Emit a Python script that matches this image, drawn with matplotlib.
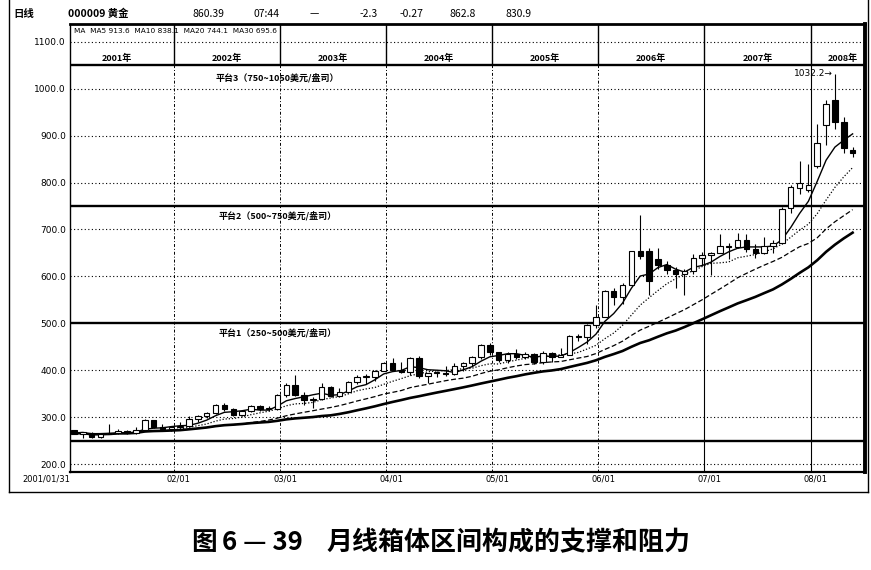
import matplotlib
matplotlib.use('Agg')
import matplotlib.pyplot as plt
import pandas as pd
from matplotlib.lines import Line2D

plt.rcParams['font.family'] = ['Noto Sans CJK SC', 'DejaVu Sans']

# ---------------- data (monthly candles, Jan 2001 - May 2008) ----------------
opens = [272, 265, 267, 258, 264, 267, 271, 266, 273, 293, 279, 275,
         279, 282, 297, 302, 308, 326, 318, 304, 312, 324, 317, 318,
         347, 368, 348, 336, 339, 364, 346, 354, 375, 385, 386, 398,
         416, 400, 397, 427, 387, 394, 395, 391, 408, 416, 428, 453,
         438, 422, 435, 428, 435, 417, 437, 429, 433, 473, 470, 496,
         513, 569, 556, 582, 654, 655, 638, 625, 614, 605, 612, 640,
         645, 650, 665, 662, 678, 659, 650, 665, 672, 745, 788, 785,
         835, 922, 975, 930, 870]
highs = [273, 268, 268, 265, 285, 275, 272, 279, 297, 294, 285, 282,
         290, 302, 304, 310, 328, 330, 320, 315, 325, 325, 323, 350,
         372, 389, 353, 342, 372, 367, 361, 376, 390, 392, 400, 417,
         427, 417, 428, 430, 395, 398, 408, 416, 418, 430, 456, 457,
         439, 439, 446, 439, 436, 442, 438, 447, 474, 478, 498, 540,
         571, 575, 585, 654, 730, 660, 660, 632, 620, 615, 648, 652,
         653, 690, 671, 692, 691, 670, 685, 677, 748, 795, 845, 840,
         925, 975, 1032.2, 940, 875]
lows = [263, 255, 255, 255, 263, 265, 264, 265, 271, 276, 272, 271,
        277, 281, 289, 299, 307, 313, 302, 302, 311, 313, 313, 316,
        343, 344, 325, 320, 337, 342, 342, 352, 371, 370, 378, 398,
        399, 395, 390, 384, 372, 385, 387, 389, 398, 410, 424, 432,
        418, 416, 424, 424, 414, 414, 418, 428, 433, 463, 456, 489,
        513, 538, 541, 582, 637, 560, 615, 605, 575, 560, 606, 625,
        603, 649, 638, 660, 651, 640, 648, 650, 668, 735, 775, 780,
        830, 880, 915, 862, 855]
closes = [265, 267, 258, 264, 267, 271, 266, 273, 293, 279, 275, 279,
          282, 297, 302, 308, 326, 318, 304, 312, 324, 317, 318, 347,
          368, 348, 336, 339, 364, 346, 354, 375, 385, 386, 398, 416,
          400, 397, 427, 387, 394, 395, 391, 408, 416, 428, 453, 438,
          422, 435, 428, 435, 417, 437, 429, 433, 473, 470, 496, 513,
          569, 556, 582, 654, 643, 590, 625, 614, 605, 612, 640, 645,
          650, 665, 662, 678, 659, 650, 665, 672, 743, 790, 800, 795,
          885, 968, 930, 874, 862]

ma_periods = [5, 10, 20, 30]
y_ticks = [1100, 1000, 900, 800, 700, 600, 500, 400, 300, 200]
platform_lines = [1050, 750, 500, 250]
platform_labels = ['平台3（750~1050美元/盎司）', '平台2（500~750美元/盎司）', '平台1（250~500美元/盎司）']
platform_label_y = [1023, 729, 480]
year_labels = ['2001年', '2002年', '2003年', '2004年', '2005年', '2006年', '2007年', '2008年']
date_labels = ['2001/01/31', '02/01', '03/01', '04/01', '05/01', '06/01', '07/01', '08/01']
header_items = ['日线', '000009 黄金', '860.39', '07:44', '—', '-2.3', '-0.27', '862.8', '830.9']
ma_text = 'MA  MA5 913.6  MA10 838.1  MA20 744.1  MA30 695.6'
peak_label = '1032.2→'
caption_fig = '图'
caption_num = '6 — 39'
caption_right = '月线箱体区间构成的支撑和阻力'

# ---------------- figure ----------------
W, H = 871, 570
fig = plt.figure(figsize=(W / 100, H / 100), dpi=100)

def fx(px):
    return px / W

def fy(py):
    return 1 - py / H

ax = fig.add_axes([fx(70), fy(472), fx(865) - fx(70), fy(24) - fy(472)])
n = len(closes)
xs = list(range(n))
ax.set_xlim(-0.45, 89.4)
ax.set_ylim(183, 1138)

# grid lines
for v in y_ticks:
    if v in platform_lines:
        continue
    ax.axhline(v, color='black', lw=0.8, ls=(0, (1, 2.2)), zorder=1)
for v in platform_lines:
    ax.axhline(v, color='black', lw=1.7, zorder=1)

year_bounds = [11.25 + 12 * k for k in range(7)]
for k, xb in enumerate(year_bounds):
    ax.vlines(xb, 1050, 1138, color='black', lw=1.0, zorder=1)
    if k >= 5:
        ax.vlines(xb, 183, 1050, color='black', lw=0.8, zorder=1)
    else:
        ax.vlines(xb, 183, 1050, color='black', lw=0.7, ls=(0, (3, 2, 1, 2)), zorder=1)

# moving averages
cs = pd.Series(closes, dtype=float)
ma_styles = {5: dict(lw=1.0, ls='-'), 10: dict(lw=0.9, ls=(0, (1, 1.5))),
             20: dict(lw=0.9, ls=(0, (4, 2))), 30: dict(lw=1.9, ls='-')}
for p in ma_periods:
    ma = cs.rolling(p, min_periods=1).mean()
    ax.plot(xs, ma, color='black', zorder=2, **ma_styles[p])

# candles
ax.vlines(xs, lows, highs, color='black', lw=0.8, zorder=3)
bottoms = [min(o, c) for o, c in zip(opens, closes)]
heights = [max(abs(c - o), 2.5) for o, c in zip(opens, closes)]
faces = ['white' if c >= o else 'black' for o, c in zip(opens, closes)]
ax.bar(xs, heights, bottom=bottoms, width=0.62, color=faces, edgecolor='black',
       linewidth=0.8, zorder=4)

# axis styling
ax.set_yticks(y_ticks)
ax.set_yticklabels([f'{v:.1f}' for v in y_ticks], fontsize=6.5, family='DejaVu Sans')
xt = [-0.45] + [11.85 + 12 * k for k in range(7)]
ax.set_xticks(xt)
ax.set_xticklabels(date_labels, fontsize=6, family='DejaVu Sans')
ax.get_xticklabels()[0].set_ha('right')
ax.tick_params(axis='both', length=0)
ax.tick_params(axis='y', pad=3)
ax.tick_params(axis='x', pad=2)
ax.spines['left'].set_linewidth(1.0)
ax.spines['bottom'].set_linewidth(1.6)
ax.spines['top'].set_linewidth(2.0)
ax.spines['right'].set_linewidth(2.8)

# year band labels
year_centers = [4.8] + [5.25 + 12 * k for k in range(1, 7)] + [86.9]
for xc, lab in zip(year_centers, year_labels):
    ax.text(xc, 1064, lab, ha='center', va='center', fontsize=6.5, fontweight='bold')

# platform labels
for lab, yv in zip(platform_labels, platform_label_y):
    ax.text(23.0, yv, lab, ha='center', va='center', fontsize=6.5, fontweight='bold')

ax.text(85.8, 1032.2, peak_label, ha='right', va='center', fontsize=6.5, family='DejaVu Sans')

# MA header line inside the box
fig.text(fx(74), fy(31), ma_text, ha='left', va='center', fontsize=5.3, family='DejaVu Sans')

# header row
header_x = [13, 68, 192, 253, 310, 360, 400, 450, 505]
for xp, t in zip(header_x, header_items):
    fig.text(fx(xp), fy(14), t, ha='left', va='center', fontsize=7.5,
             fontweight='bold' if t.startswith('000009') or t == '日线' else 'normal')

# outer frame
for (x0, y0, x1, y1) in [(9, 0, 9, 492), (9, 492, 868, 492), (868, 0, 868, 492)]:
    fig.add_artist(Line2D([fx(x0), fx(x1)], [fy(y0), fy(y1)], color='black', lw=1.0))

# caption
fig.text(fx(191), fy(543), caption_fig, ha='left', va='center', fontsize=18.5, fontweight='bold')
fig.text(fx(222), fy(543), caption_num, ha='left', va='center', fontsize=18.5, fontweight='bold')
fig.text(fx(326), fy(543), caption_right, ha='left', va='center', fontsize=18.7, fontweight='bold')

fig.savefig('out.png', dpi=100, facecolor='white')
